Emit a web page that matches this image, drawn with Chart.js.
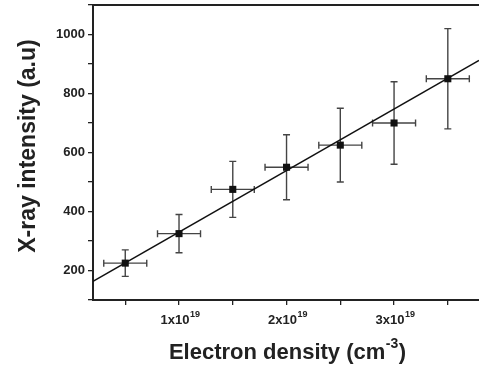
<!DOCTYPE html>
<html>
<head>
<meta charset="utf-8">
<script src="https://cdn.jsdelivr.net/npm/chart.js@4.4.0/dist/chart.umd.min.js"></script>
<style>
  html, body { margin: 0; padding: 0; background: #fff; }
  #wrap { width: 479px; height: 371px; }
</style>
</head>
<body>
<div id="wrap"><canvas id="chart"></canvas></div>
<script>
// electron density in units of 1e19 cm^-3
const density   = [0.5, 1.0, 1.5, 2.0, 2.5, 3.0, 3.5];
const intensity = [225, 325, 475, 550, 625, 700, 850];
const errY      = [45, 65, 95, 110, 125, 140, 170];
const errX      = [0.2, 0.2, 0.2, 0.2, 0.2, 0.2, 0.2];
// linear fit, end points
const fitX = [0.2, 3.79];
const fitY = [163, 912];
const yLabels = [200, 400, 600, 800, 1000];
const xLabels = [1, 2, 3];

const FONT = '"Liberation Sans", Arial, Helvetica, sans-serif';
const INK  = '#222';

// ── error bars under the markers ───────────────────────────
const errorBars = {
  id: 'errorBars',
  beforeDatasetsDraw(chart) {
    const { ctx, scales: { x, y } } = chart;
    ctx.save();
    ctx.strokeStyle = '#444';
    ctx.lineWidth = 1.4;
    const cap = 3.5;
    density.forEach((d, i) => {
      const px = x.getPixelForValue(d);
      const py = y.getPixelForValue(intensity[i]);
      const y1 = y.getPixelForValue(intensity[i] + errY[i]);
      const y2 = y.getPixelForValue(intensity[i] - errY[i]);
      const x1 = x.getPixelForValue(d - errX[i]);
      const x2 = x.getPixelForValue(d + errX[i]);
      ctx.beginPath();
      ctx.moveTo(px, y1); ctx.lineTo(px, y2);
      ctx.moveTo(px - cap, y1); ctx.lineTo(px + cap, y1);
      ctx.moveTo(px - cap, y2); ctx.lineTo(px + cap, y2);
      ctx.moveTo(x1, py); ctx.lineTo(x2, py);
      ctx.moveTo(x1, py - cap); ctx.lineTo(x1, py + cap);
      ctx.moveTo(x2, py - cap); ctx.lineTo(x2, py + cap);
      ctx.stroke();
    });
    ctx.restore();
  }
};

// ── labels with superscripts + axis titles ─────────────────
function supText(ctx, base, sup, tail, cx, cy, size, supSize) {
  ctx.font = 'bold ' + size + 'px ' + FONT;
  const wb = ctx.measureText(base).width;
  const wt = tail ? ctx.measureText(tail).width : 0;
  ctx.font = 'bold ' + supSize + 'px ' + FONT;
  const ws = ctx.measureText(sup).width;
  const left = cx - (wb + ws + wt) / 2;
  ctx.textAlign = 'left';
  ctx.textBaseline = 'middle';
  ctx.font = 'bold ' + size + 'px ' + FONT;
  ctx.fillText(base, left, cy);
  if (tail) ctx.fillText(tail, left + wb + ws + 1, cy);
  ctx.font = 'bold ' + supSize + 'px ' + FONT;
  ctx.fillText(sup, left + wb + 0.5, cy - size * 0.42);
}

const textLayer = {
  id: 'textLayer',
  afterDraw(chart) {
    const { ctx, chartArea, scales: { x } } = chart;
    ctx.save();
    ctx.fillStyle = INK;
    xLabels.forEach(v => {
      supText(ctx, v + 'x10', '19', '', x.getPixelForValue(v) + 1, chartArea.bottom + 20, 13, 9);
    });
    supText(ctx, 'Electron density (cm', '-3', ')', 287, 353, 22, 14);

    ctx.font = 'bold 23px ' + FONT;
    ctx.textBaseline = 'middle';
    ctx.translate(29, 146);
    ctx.rotate(-Math.PI / 2);
    ctx.textAlign = 'center';
    ctx.fillText('X-ray intensity (a.u)', 0, 0);
    ctx.restore();
  }
};

const axisGrid = {
  drawOnChartArea: false,
  drawTicks: true,
  tickLength: 5,
  color: INK,
  lineWidth: 1.3
};

function noPad(scale) {
  scale.paddingTop = 0;
  scale.paddingBottom = 0;
  scale.paddingLeft = 0;
  scale.paddingRight = 0;
}

new Chart(document.getElementById('chart'), {
  type: 'scatter',
  data: {
    datasets: [
      {
        label: 'data',
        data: density.map((d, i) => ({ x: d, y: intensity[i] })),
        pointStyle: 'rect',
        pointRadius: 5,
        pointBackgroundColor: '#111',
        pointBorderColor: '#111',
        pointBorderWidth: 0,
        showLine: false
      },
      {
        label: 'fit',
        data: fitX.map((d, i) => ({ x: d, y: fitY[i] })),
        showLine: true,
        borderColor: '#111',
        borderWidth: 1.4,
        pointRadius: 0,
        fill: false
      }
    ]
  },
  options: {
    responsive: true,
    maintainAspectRatio: false,
    animation: false,
    layout: { padding: 0, autoPadding: false },
    plugins: {
      legend: { display: false },
      tooltip: { enabled: false }
    },
    scales: {
      x: {
        type: 'linear',
        position: 'bottom',
        min: 0.2,
        max: 3.79,
        border: { display: true, color: INK, width: 2 },
        grid: axisGrid,
        ticks: {
          stepSize: 0.5,
          includeBounds: false,
          autoSkip: false,
          callback: () => ''
        },
        afterFit(scale) { scale.height = 71; noPad(scale); }
      },
      x2: {
        type: 'linear',
        position: 'top',
        min: 0.2,
        max: 3.79,
        border: { display: true, color: INK, width: 2 },
        grid: { display: false },
        ticks: { display: false },
        afterFit(scale) { scale.height = 5; noPad(scale); }
      },
      y: {
        type: 'linear',
        min: 100,
        max: 1100,
        border: { display: true, color: INK, width: 2 },
        grid: axisGrid,
        ticks: {
          stepSize: 100,
          autoSkip: false,
          padding: 3,
          color: INK,
          font: { family: FONT, size: 13, weight: 'bold' },
          callback: v => yLabels.includes(v) ? String(v) : ''
        },
        afterFit(scale) { scale.width = 93; noPad(scale); }
      }
    }
  },
  plugins: [errorBars, textLayer]
});
</script>
</body>
</html>
